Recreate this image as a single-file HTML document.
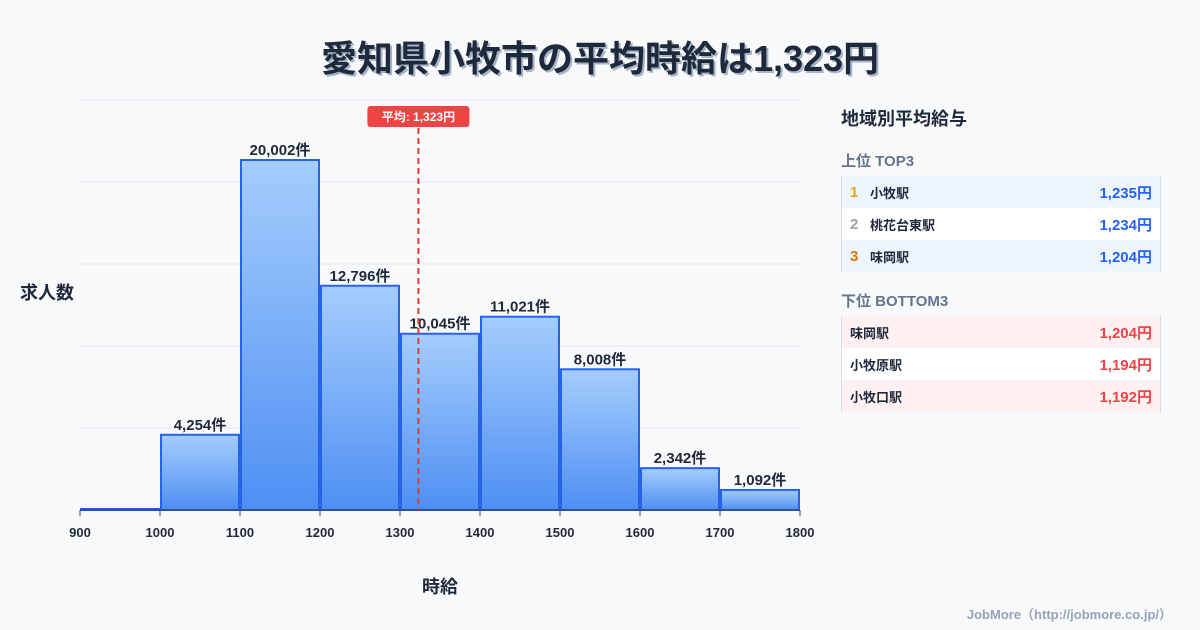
<!DOCTYPE html>
<html><head><meta charset="utf-8">
<style>
body{margin:0;width:1200px;height:630px;background:#f8f9fb;font-family:"Liberation Sans","Noto Sans CJK JP",sans-serif;position:relative;overflow:hidden;color:#1e293b}
.title{position:absolute;left:0;width:1200px;top:30px;text-align:center;font-size:36px;font-weight:bold;text-shadow:2px 2px 0 #a7b4c8}
.panel{position:absolute;left:841px;width:320px}
.h{position:absolute;left:841px;font-weight:bold}
.row{height:32px;display:flex;align-items:center;font-size:13px;font-weight:bold;border-left:1px solid #d6dde8;border-right:1px solid #d6dde8;box-sizing:border-box;padding:0 8px}
.row .v{margin-left:auto;font-size:15px}
.foot{position:absolute;right:28px;top:604px;font-size:13px;color:#94a3b8;font-weight:bold}
</style></head><body>
<div class="title">愛知県小牧市の平均時給は1,323円</div>
<svg id="chart" width="1200" height="630" style="position:absolute;left:0;top:0">
<defs><linearGradient id="g" x1="0" y1="0" x2="0" y2="1"><stop offset="0" stop-color="#a5cdfc"/><stop offset="1" stop-color="#4e8ff3"/></linearGradient></defs>
</svg>
<div class="h" style="top:105px;font-size:18px">地域別平均給与</div>
<div class="h" style="top:150px;font-size:15px;color:#64748b">上位 TOP3</div>
<div class="panel" style="top:176px">
<div class="row" style="background:#eef5ff"><span style="color:#e5a50a;width:20px;font-size:15px">1</span>小牧駅<span class="v" style="color:#2563eb">1,235円</span></div>
<div class="row" style="background:#fff"><span style="color:#9ca3af;width:20px;font-size:15px">2</span>桃花台東駅<span class="v" style="color:#2563eb">1,234円</span></div>
<div class="row" style="background:#eef5ff"><span style="color:#d97706;width:20px;font-size:15px">3</span>味岡駅<span class="v" style="color:#2563eb">1,204円</span></div>
</div>
<div class="h" style="top:290px;font-size:15px;color:#64748b">下位 BOTTOM3</div>
<div class="panel" style="top:316px">
<div class="row" style="background:#fff1f2">味岡駅<span class="v" style="color:#ef4444">1,204円</span></div>
<div class="row" style="background:#fff">小牧原駅<span class="v" style="color:#ef4444">1,194円</span></div>
<div class="row" style="background:#fff1f2">小牧口駅<span class="v" style="color:#ef4444">1,192円</span></div>
</div>
<div class="foot">JobMore（http://jobmore.co.jp/）</div>
<script>
const binStarts=[900,1000,1100,1200,1300,1400,1500,1600,1700];
const counts=[0,4254,20002,12796,10045,11021,8008,2342,1092];
const xTicks=[900,1000,1100,1200,1300,1400,1500,1600,1700,1800];
const average=1323;
const yMax=23500;
const svg=document.getElementById('chart');
const NS='http://www.w3.org/2000/svg';
const X=v=>80+(v-900)*0.8;
const Y=v=>510-v*410/yMax;
function mk(t,a){const e=document.createElementNS(NS,t);for(const k in a)e.setAttribute(k,a[k]);svg.appendChild(e);return e;}
for(let i=0;i<=5;i++){const l=mk('line',{x1:80,x2:800,y1:100+i*82,y2:100+i*82,stroke:'#e5e7eb'});

}
binStarts.forEach((b,i)=>{
 const x=X(b)+1,w=X(b+100)-X(b)-2,y=Y(counts[i]);
 const r=mk('rect',{x:x,y:y-1,width:w,height:Math.max(510-y,0)+1,fill:'url(#g)',stroke:'#2563eb','stroke-width':2});
 
 
 if(counts[i]>0){const t=mk('text',{x:x+w/2,y:y-6,'text-anchor':'middle','font-size':15,'font-weight':'bold',fill:'#1e293b'});
 t.textContent=counts[i].toLocaleString('en-US')+'件';
 
 }
});
const ax=mk('line',{x1:80,x2:800,y1:510,y2:510,stroke:'#334155'});


xTicks.forEach(v=>{mk('line',{x1:X(v),x2:X(v),y1:510,y2:516,stroke:'#334155'});
 const t=mk('text',{x:X(v),y:537,'text-anchor':'middle','font-size':13,'font-weight':'bold',fill:'#1e293b'});
 t.textContent=v;
 
 });
const ax2=X(average);
const al=mk('line',{x1:ax2,x2:ax2,y1:128,y2:510,stroke:'#dc3b3b','stroke-width':2,'stroke-dasharray':'6,4'});


const ab=mk('rect',{x:ax2-51,y:106,width:102,height:21,rx:3,fill:'#ef4444'});


const at=mk('text',{x:ax2,y:121,'text-anchor':'middle','font-size':12,'font-weight':'bold',fill:'#fff'});
at.textContent='平均: '+average.toLocaleString('en-US')+'円';


const yt=mk('text',{x:20,y:299,'font-size':18,'font-weight':'bold',fill:'#1e293b'});
yt.textContent='求人数';


const xt=mk('text',{x:440,y:593,'text-anchor':'middle','font-size':18,'font-weight':'bold',fill:'#1e293b'});
xt.textContent='時給';


</script>
</body></html>
